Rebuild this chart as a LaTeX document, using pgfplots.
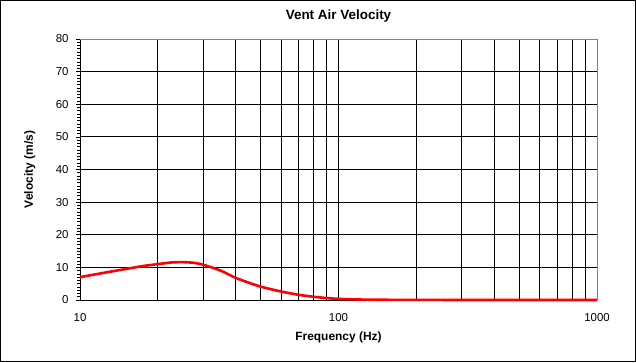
\documentclass[border=0pt]{standalone}
\usepackage{fontspec}
\setmainfont{Liberation Sans}
\usepackage{pgfplots}
\pgfplotsset{compat=1.18}
\begin{document}
\begin{tikzpicture}[x=1bp,y=1bp]
\draw[black, line width=1.2bp] (0.6,0.6) rectangle (635.4,361.4);
\begin{axis}[
  at={(80bp,62bp)}, anchor=south west,
  scale only axis, width=517bp, height=261bp,
  xmode=log, xmin=10, xmax=1000, ymin=0, ymax=80,
  log basis x=10,
  xtick={10,100,1000}, xticklabels={10,100,1000},
  minor xtick={20,30,40,50,60,70,80,90,200,300,400,500,600,700,800,900},
  ytick={0,10,...,80},
  minor y tick num=9,
  xmajorgrids, xminorgrids, ymajorgrids,
  grid style={black, line width=0.8bp},
  minor grid style={black, line width=0.8bp},
  axis line style={black, line width=0.8bp},
  tick align=outside,
  major tick length=4bp, minor tick length=3bp,
  tick style={black, line width=0.6bp},
  xtick style={draw=none},
  extra x ticks={100}, extra x tick labels={},
  extra x tick style={tick style={black, line width=0.8bp}, major tick length=6bp, grid=none},
  axis x line*=bottom, axis y line*=left,
  tick label style={font=\fontsize{11.5}{13}\selectfont},
  /pgf/number format/assume math mode=true,
  xticklabel style={yshift=-6bp},
  yticklabel style={xshift=-4bp},
  xlabel={\textbf{Frequency (Hz)}},
  ylabel={\textbf{Velocity (m/s)}},
  label style={font=\fontsize{12}{14}\selectfont},
  xlabel style={at={(axis description cs:0.5,-0.142)}, anchor=center},
  ylabel style={at={(axis description cs:-0.097,0.5)}, anchor=center},
  title={\textbf{Vent Air Velocity}},
  title style={font=\fontsize{13.5}{15}\selectfont, at={(axis description cs:0.5,1.065)}, anchor=center},
  clip=false,
]
\draw[gray, line width=0.8bp] (axis cs:10,80) -- (axis cs:1000,80) -- (axis cs:1000,0);
\addplot[red, line width=2.6bp, smooth] coordinates {
(10,7.0) (12.5,8.4) (15,9.5) (17.5,10.4) (20,11.0) (22.5,11.5) (25,11.6) (27.5,11.4) (30,10.8)
(35,9.0) (40,6.8) (45,5.3) (50,4.1) (60,2.6) (70,1.6) (80,1.0) (90,0.6) (100,0.35)
(120,0.15) (150,0.07) (200,0.03) (300,0.01) (500,0.0) (1000,0.0)
};
\end{axis}
\end{tikzpicture}
\end{document}
